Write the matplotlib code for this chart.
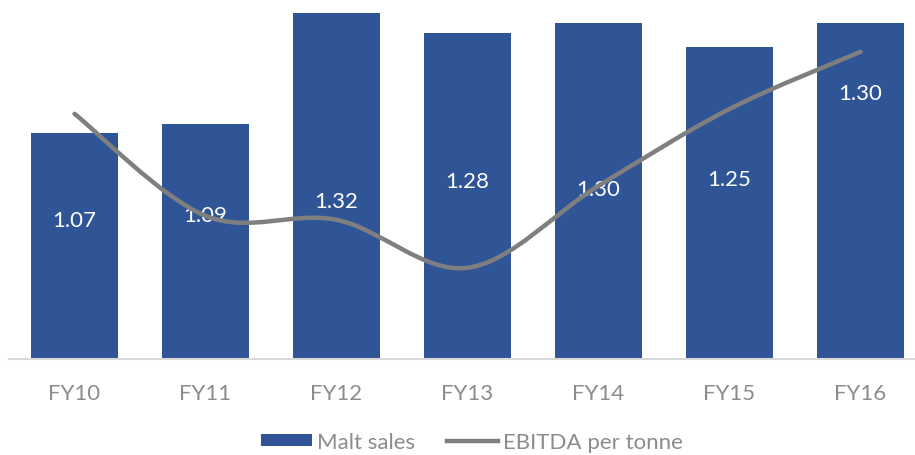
import matplotlib.pyplot as plt
from matplotlib.path import Path
from matplotlib.patches import PathPatch
from matplotlib.lines import Line2D
from matplotlib.patches import Patch

# Data
years = ['FY10', 'FY11', 'FY12', 'FY13', 'FY14', 'FY15', 'FY16']
malt_sales = [1.07, 1.09, 1.32, 1.28, 1.30, 1.25, 1.30]
ebitda_per_tonne = [61.3, 35.8, 34.8, 22.8, 43.3, 62.5, 76.8]
# height (on the bar axis) where each bar label sits
label_pos = [0.89, 0.90, 0.93, 0.97, 0.955, 0.975, 1.155]

bar_color = '#2F5597'
line_color = '#7F7F7F'
text_gray = '#8C8C8C'

plt.rcParams['font.family'] = ['Lato', 'DejaVu Sans']

fig = plt.figure(figsize=(9.15, 4.56), dpi=100)
ax = fig.add_axes([9 / 915, 96 / 456, 917 / 915, 360 / 456])

x = list(range(len(years)))
ax.bar(x, malt_sales, width=0.665, color=bar_color, zorder=2)
ax.set_xlim(-0.5, len(years) - 0.5)
ax.set_ylim(0.6, 1.35)

for xi, v, yp in zip(x, malt_sales, label_pos):
    ax.text(xi, yp, f'{v:.2f}', color='white', fontsize=16,
            ha='center', va='center', zorder=5)

ax.set_xticks(x)
ax.set_xticklabels(years, fontsize=16, color=text_gray)
ax.tick_params(axis='x', length=0, pad=17)
ax.set_yticks([])
for side in ['top', 'right', 'left']:
    ax.spines[side].set_visible(False)
ax.spines['bottom'].set_color('#D9D9D9')
ax.spines['bottom'].set_linewidth(1.5)

# secondary axis for the smoothed line
ax2 = ax.twinx()
ax2.set_ylim(0, 90)
ax2.set_yticks([])
for side in ['top', 'right', 'left', 'bottom']:
    ax2.spines[side].set_visible(False)

# smoothed line (Catmull-Rom as cubic Bezier segments)
pts = list(zip(x, ebitda_per_tonne))
verts = [pts[0]]
codes = [Path.MOVETO]
n = len(pts)
for i in range(n - 1):
    p0 = pts[i - 1] if i > 0 else pts[i]
    p1 = pts[i]
    p2 = pts[i + 1]
    p3 = pts[i + 2] if i + 2 < n else pts[i + 1]
    c1 = (p1[0] + (p2[0] - p0[0]) / 6, p1[1] + (p2[1] - p0[1]) / 6)
    c2 = (p2[0] - (p3[0] - p1[0]) / 6, p2[1] - (p3[1] - p1[1]) / 6)
    verts += [c1, c2, p2]
    codes += [Path.CURVE4] * 3
curve = PathPatch(Path(verts, codes), facecolor='none', edgecolor=line_color,
                  linewidth=3.2, capstyle='round', zorder=4)
ax2.add_patch(curve)

handles = [Patch(facecolor=bar_color, label='Malt sales'),
           Line2D([0], [0], color=line_color, linewidth=3.2, label='EBITDA per tonne')]
leg = fig.legend(handles=handles, loc='center', bbox_to_anchor=(472 / 915, 0.028),
                 ncol=2, frameon=False, fontsize=16, handlelength=2.3,
                 handleheight=0.45, handletextpad=0.25, columnspacing=1.4,
                 borderpad=0.1)
for t in leg.get_texts():
    t.set_color(text_gray)

fig.savefig('out.png', dpi=100)
